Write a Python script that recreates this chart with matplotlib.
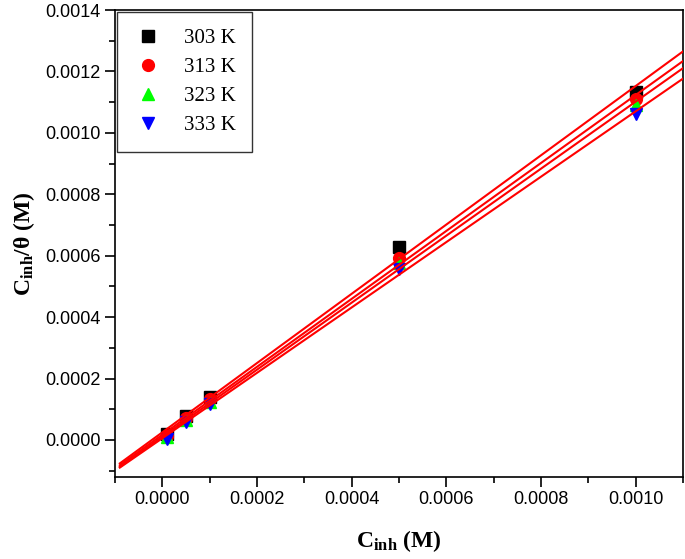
import numpy as np
import matplotlib.pyplot as plt
from matplotlib.ticker import MultipleLocator

plt.rcParams['mathtext.fontset'] = 'custom'
plt.rcParams['mathtext.rm'] = 'Liberation Serif'
plt.rcParams['mathtext.bf'] = 'Liberation Serif:bold'
plt.rcParams['mathtext.it'] = 'Liberation Serif:italic'

conc = [0.00001, 0.00005, 0.0001, 0.0005, 0.001]
temps = ['303 K', '313 K', '323 K', '333 K']
c_theta_303 = [0.000018, 0.000078, 0.000140, 0.000628, 0.001133]
c_theta_313 = [0.000014, 0.000072, 0.000132, 0.000592, 0.001112]
c_theta_323 = [0.000010, 0.000064, 0.000124, 0.000575, 0.001092]
c_theta_333 = [0.000004, 0.000058, 0.000116, 0.000558, 0.001060]

series = [c_theta_303, c_theta_313, c_theta_323, c_theta_333]
colors = ['black', 'red', '#00ff00', 'blue']
markers = ['s', 'o', '^', 'v']

fig = plt.figure(figsize=(6.85, 5.59), dpi=100)
ax = fig.add_axes([0.168, 0.147, 0.829, 0.835])

x = np.array(conc)
xfit = np.linspace(-0.00009, 0.0011, 50)
for ys, c, m, lab in zip(series, colors, markers, temps):
    ax.plot(conc, ys, linestyle='none', marker=m, color=c, markersize=8.5, label=lab, zorder=2)
    slope, icpt = np.polyfit(x, np.array(ys), 1)
    ax.plot(xfit, slope * xfit + icpt, color='red', lw=1.5, zorder=3)

ax.set_xlim(-0.0001, 0.0011)
ax.set_ylim(-0.00012, 0.0014)
ax.xaxis.set_major_locator(MultipleLocator(0.0002))
ax.xaxis.set_minor_locator(MultipleLocator(0.0001))
ax.yaxis.set_major_locator(MultipleLocator(0.0002))
ax.yaxis.set_minor_locator(MultipleLocator(0.0001))
ax.xaxis.set_major_formatter(plt.FuncFormatter(lambda v, p: '{:.4f}'.format(v)))
ax.yaxis.set_major_formatter(plt.FuncFormatter(lambda v, p: '{:.4f}'.format(v)))
ax.tick_params(which='both', direction='out', top=False, right=False,
               labelsize=13, labelfontfamily='Liberation Sans')
ax.tick_params(which='major', length=7, width=1.2)
ax.tick_params(which='minor', length=4, width=1.2)
for s in ax.spines.values():
    s.set_linewidth(1.2)

ax.set_xlabel(r'C$_{\mathbf{inh}}$ (M)', fontsize=17, fontweight='bold',
              family='Liberation Serif', labelpad=14)
ax.set_ylabel('C$_{\\mathbf{inh}}$/θ (M)', fontsize=17, fontweight='bold',
              family='Liberation Serif', labelpad=6)

leg = ax.legend(loc='upper left', prop={'family': 'Liberation Serif', 'size': 15},
                fancybox=False, edgecolor='black', borderaxespad=0.1,
                handlelength=1.4, handletextpad=1.0, labelspacing=0.45, borderpad=0.8)
leg.get_frame().set_linewidth(1.0)

fig.savefig('out.png')
